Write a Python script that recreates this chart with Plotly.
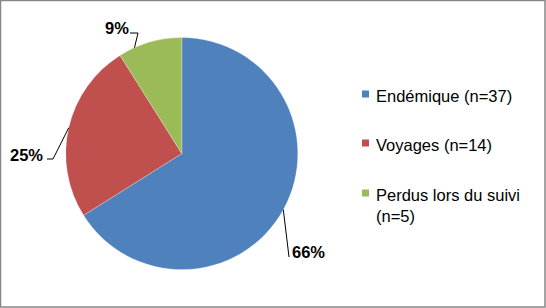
import math
import plotly.graph_objects as go

# ---- data ----
categories = ["Endémique", "Voyages", "Perdus lors du suivi"]
counts = [37, 14, 5]
legend_labels = ["Endémique (n=37)", "Voyages (n=14)", "Perdus lors du suivi<br>(n=5)"]
colors = ["#4F81BD", "#C0504D", "#9BBB59"]

W, H = 546, 308
CX, CY, R = 181.8, 153.6, 116.0

def px(x):
    return x / W

def py(y):
    return 1 - y / H

fig = go.Figure()
fig.add_trace(go.Pie(
    labels=categories, values=counts, sort=False, direction="clockwise", rotation=0,
    marker=dict(colors=colors, line=dict(color="rgba(255,255,255,0.5)", width=0.5)),
    textinfo="none", hoverinfo="label+percent", showlegend=False,
    domain=dict(x=[px(CX - R), px(CX + R)], y=[py(CY + R), py(CY - R)]),
))

total = sum(counts)
# label style: text centre, elbow point, end point (pixels)
label_style = [
    dict(text_xy=(308.5, 252), elbow=(289, 257), end=(289, 257)),
    dict(text_xy=(26.5, 155), elbow=(53, 159), end=(47, 159)),
    dict(text_xy=(116.5, 28), elbow=(138, 33), end=(130, 33)),
]
anchor_shift = [0.0, 0.0, -8.0]  # degrees, style tweak for anchor on the rim

shapes = []
annotations = []
cum = 0
for i, v in enumerate(counts):
    frac = v / total
    mid = (cum + frac / 2) * 360 + anchor_shift[i]
    cum += frac
    ax = CX + R * math.sin(math.radians(mid))
    ay = CY - R * math.cos(math.radians(mid))
    st = label_style[i]
    ex, ey = st["elbow"]
    nx, ny = st["end"]
    path = f"M {px(ax)},{py(ay)} L {px(ex)},{py(ey)} L {px(nx)},{py(ny)}"
    shapes.append(dict(type="path", xref="paper", yref="paper", path=path,
                       line=dict(color="black", width=1)))
    tx, ty = st["text_xy"]
    annotations.append(dict(x=px(tx), y=py(ty), xref="paper", yref="paper",
                            text=f"<b>{round(frac * 100)}%</b>", showarrow=False,
                            xanchor="center", yanchor="middle",
                            font=dict(family="Liberation Sans, Arial", size=16.5, color="black")))

# manual legend
legend_rows_y = [94, 143, 193]
for i, lab in enumerate(legend_labels):
    y = legend_rows_y[i]
    shapes.append(dict(type="rect", xref="paper", yref="paper",
                       x0=px(362), x1=px(369), y0=py(y + 3.5), y1=py(y - 3.5),
                       fillcolor=colors[i], line=dict(width=0)))
    annotations.append(dict(x=px(374), y=py(y - 9.5), xref="paper", yref="paper",
                            text=lab, showarrow=False, xanchor="left", yanchor="top",
                            align="left",
                            font=dict(family="Liberation Sans, Arial", size=16.5, color="black")))

# outer border
shapes.append(dict(type="rect", xref="paper", yref="paper", x0=px(0.5), x1=px(545), y0=py(307), y1=py(0.5),
                   line=dict(color="#868686", width=1.5)))

fig.update_layout(
    width=W, height=H, margin=dict(l=0, r=0, t=0, b=0),
    paper_bgcolor="white", plot_bgcolor="white",
    shapes=shapes, annotations=annotations,
)
fig.write_html("out.html")
